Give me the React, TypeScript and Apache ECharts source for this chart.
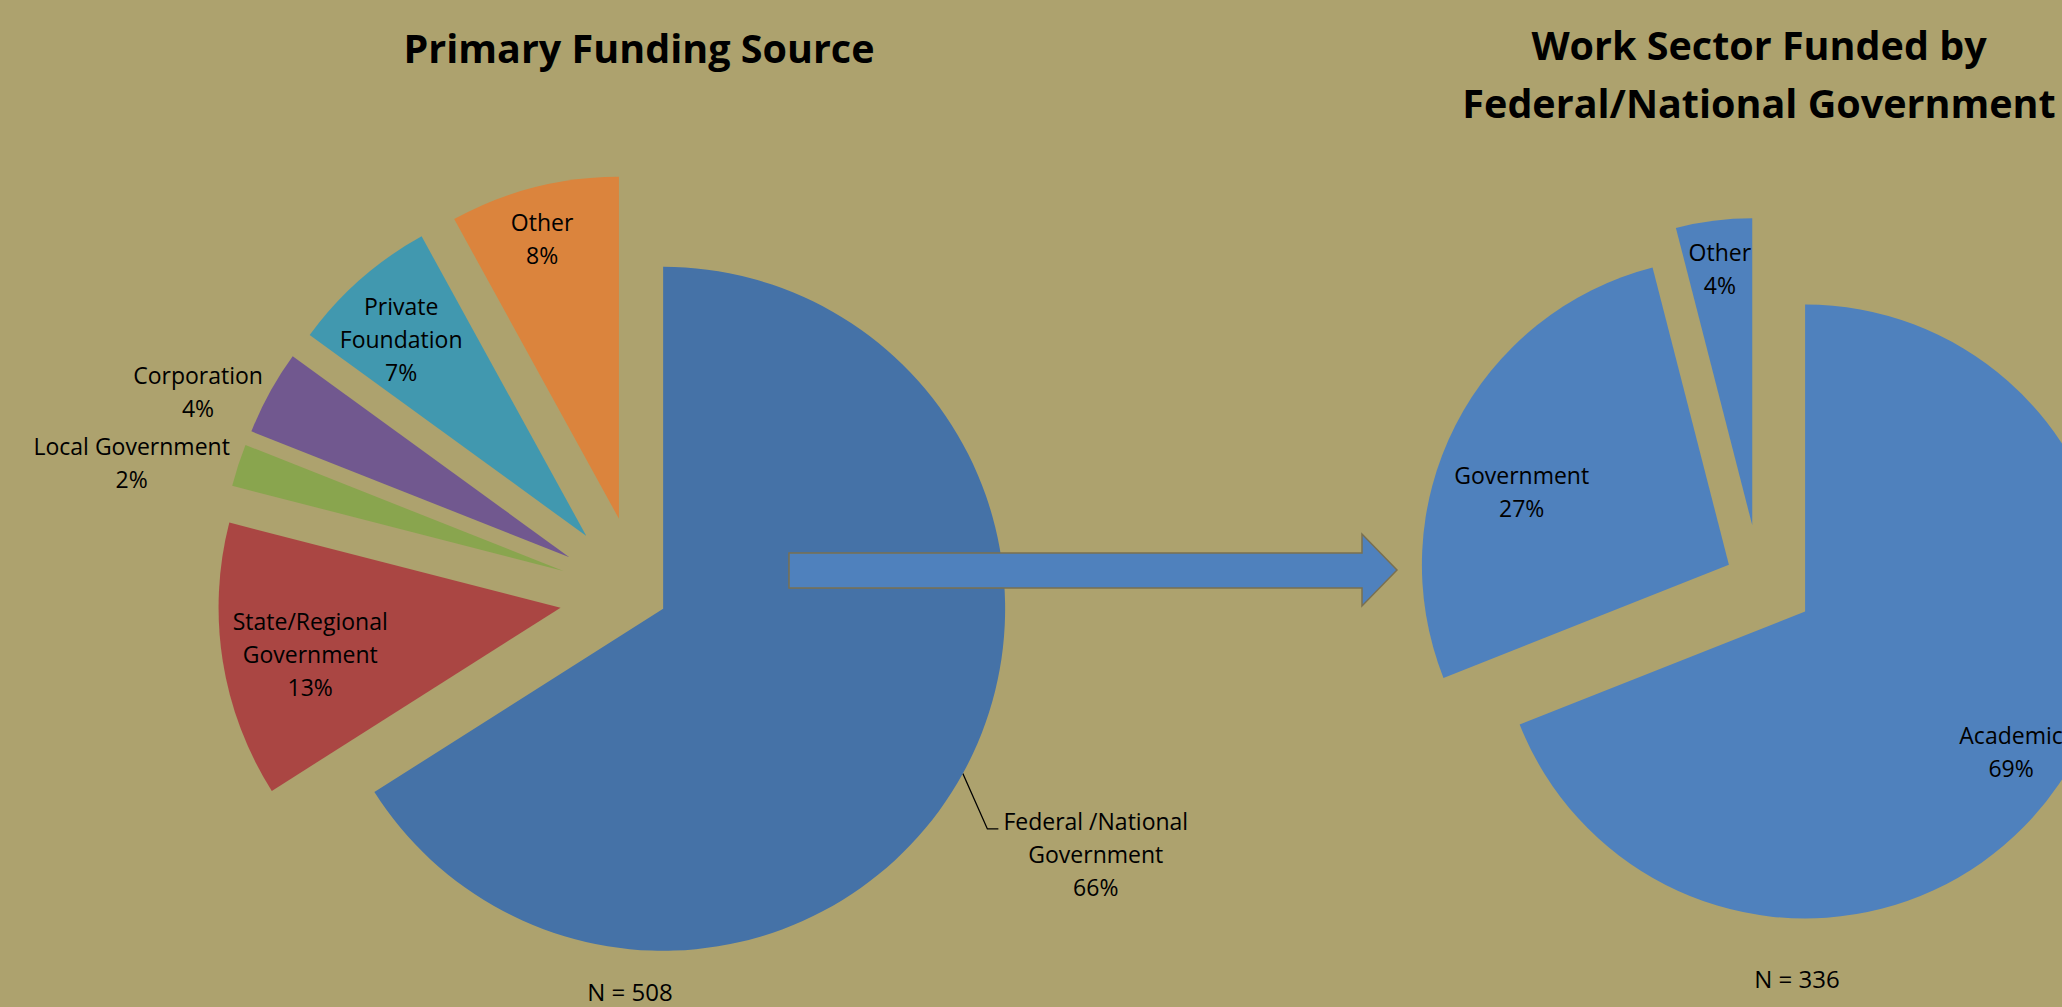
import React, { useEffect, useRef } from 'react';
import * as echarts from 'echarts';

// ---------- data ----------
const fundingNames = [
  'Federal /National\nGovernment',
  'State/Regional\nGovernment',
  'Local Government',
  'Corporation',
  'Private\nFoundation',
  'Other',
];
const fundingValues = [66, 13, 2, 4, 7, 8];
const fundingColors = ['#4572A7', '#AA4643', '#89A54E', '#71588F', '#4198AF', '#DB843D'];

const sectorNames = ['Academic', 'Government', 'Other'];
const sectorValues = [69, 27, 4];
const sectorColors = ['#4F81BD', '#4F81BD', '#4F81BD'];

const titleLeft = 'Primary Funding Source';
const titleRight = 'Work Sector Funded by\nFederal/National Government';
const sampleLeft = 'N = 508';
const sampleRight = 'N = 336';

// ---------- layout ----------
const BG = '#ADA26E';
const FONT = '"Open Sans", "Noto Sans", sans-serif';
const LEFT_C = [638.6, 595.3];
const LEFT_R = 342;
const RIGHT_C = [1759.2, 580.3];
const RIGHT_R = 307;

const richText = {
  t: {
    color: '#000',
    fontFamily: FONT,
    fontSize: 23,
    lineHeight: 33,
    align: 'center',
    textBorderWidth: 0,
  },
};

const fmt = (p: any) =>
  [...String(p.name).split('\n'), p.percent + '%'].map((s) => `{t|${s}}`).join('\n');

type Layer = {
  id: string;
  names: string[];
  values: number[];
  colors: string[] | null;
  center: number[];
  radius: number;
  offset: number;
  show: number[];
  label?: any;
  labelLine?: any;
  labelLayout?: any;
  z: number;
};

function layer(o: Layer) {
  return {
    type: 'pie',
    id: o.id,
    center: o.center,
    radius: [0, o.radius],
    startAngle: 90,
    clockwise: true,
    selectedMode: 'multiple',
    selectedOffset: o.offset,
    avoidLabelOverlap: false,
    percentPrecision: 0,
    silent: true,
    emphasis: { disabled: true },
    labelLayout: o.labelLayout,
    z: o.z,
    data: o.values.map((v, i) => {
      const on = o.show.includes(i);
      return {
        name: o.names[i],
        value: v,
        selected: on,
        itemStyle: {
          color: on && o.colors ? o.colors[i] : 'rgba(0,0,0,0)',
          borderWidth: 0,
        },
        label: on && o.label ? { show: true, ...o.label } : { show: false },
        labelLine: on && o.labelLine ? o.labelLine : { show: false },
      };
    }),
  };
}

// padding nudges the text box: [down, left-shift, 0, right-shift]
function inside(padding: number[]) {
  return {
    position: 'inside',
    formatter: fmt,
    rich: richText,
    color: '#000',
    textBorderWidth: 0,
    padding,
  };
}

// bend the leader line down to the first text line, as in the reference
const fedLeader = (p: any) => {
  const pts = p.labelLinePoints;
  if (!pts || pts.length < 3) return {};
  const a = pts[0];
  const c = pts[2];
  return {
    labelLinePoints: [
      [a[0], a[1]],
      [c[0] - 11, c[1] + 38],
      [c[0], c[1] + 38],
    ],
  };
};

const leftBase = { names: fundingNames, values: fundingValues, center: LEFT_C };
const rightBase = { names: sectorNames, values: sectorValues, center: RIGHT_C };

const series = [
  // left pie sectors
  layer({
    ...leftBase, id: 'fed', colors: fundingColors, radius: LEFT_R, offset: 28, show: [0], z: 2,
    label: {
      position: 'outside',
      formatter: fmt,
      rich: richText,
      color: '#000',
      textBorderWidth: 0,
      distanceToLabelLine: 5,
      padding: [126, 0, 0, 0],
    },
    labelLine: { show: true, length: 36, length2: 4, smooth: false, lineStyle: { color: '#000', width: 1.3 } },
    labelLayout: fedLeader,
  }),
  layer({ ...leftBase, id: 'small', colors: fundingColors, radius: LEFT_R, offset: 79, show: [1, 2, 3, 4, 5], z: 2 }),
  // left pie labels
  layer({ ...leftBase, id: 'lOther', colors: null, radius: 572, offset: 79, show: [5], z: 3, label: inside([0, 10, 0, 0]) }),
  layer({ ...leftBase, id: 'lPriv', colors: null, radius: 536, offset: 79, show: [4], z: 3, label: inside([12, 12, 0, 0]) }),
  layer({ ...leftBase, id: 'lState', colors: null, radius: 505, offset: 79, show: [1], z: 3, label: inside([12, 0, 0, 4]) }),
  layer({ ...leftBase, id: 'lCorp', colors: null, radius: 805, offset: 79, show: [3], z: 3, label: inside([60, 32, 0, 0]) }),
  layer({ ...leftBase, id: 'lLocal', colors: null, radius: 881, offset: 79, show: [2], z: 3, label: inside([58, 20, 0, 0]) }),
  // right pie sectors
  layer({ ...rightBase, id: 'acad', colors: sectorColors, radius: RIGHT_R, offset: 55.5, show: [0, 2], z: 2 }),
  layer({ ...rightBase, id: 'gov', colors: sectorColors, radius: RIGHT_R, offset: 34, show: [1], z: 2 }),
  // right pie labels
  layer({ ...rightBase, id: 'rAcad', colors: null, radius: 492, offset: 55.5, show: [0], z: 3, label: inside([0, 0, 0, 0]) }),
  layer({ ...rightBase, id: 'rOther', colors: null, radius: 511, offset: 55.5, show: [2], z: 3, label: inside([0, 0, 0, 0]) }),
  layer({ ...rightBase, id: 'rGov', colors: null, radius: 430, offset: 34, show: [1], z: 3, label: inside([52, 26, 0, 0]) }),
];

const textStyle = (text: string, size: number, weight: string, lh: number) => ({
  text,
  fill: '#000',
  fontFamily: FONT,
  fontSize: size,
  fontWeight: weight,
  lineHeight: lh,
  align: 'center',
  verticalAlign: 'middle',
});

const option = {
  animation: false,
  backgroundColor: BG,
  series,
  graphic: [
    { type: 'text', x: 639, y: 48, z: 50, style: textStyle(titleLeft, 39.5, 'bold', 48) },
    { type: 'text', x: 1759, y: 74, z: 50, style: textStyle(titleRight, 39.5, 'bold', 58) },
    { type: 'text', x: 630, y: 991, z: 50, style: textStyle(sampleLeft, 24, 'normal', 30) },
    { type: 'text', x: 1797, y: 978, z: 50, style: textStyle(sampleRight, 24, 'normal', 30) },
    {
      type: 'polygon',
      z: 100,
      shape: {
        points: [
          [789, 553], [1362, 553], [1362, 534], [1397, 570],
          [1362, 606], [1362, 588], [789, 588],
        ],
      },
      style: { fill: '#4F81BD', stroke: '#7A7050', lineWidth: 1.5 },
    },
  ],
};

export default function App() {
  const ref = useRef<HTMLDivElement>(null);
  useEffect(() => {
    const chart = echarts.init(ref.current as HTMLDivElement, null, { renderer: 'svg' });
    chart.setOption(option as any);
    return () => chart.dispose();
  }, []);
  return (
    <div
      ref={ref}
      style={{ position: 'fixed', left: 0, top: 0, width: 2062, height: 1007, background: BG }}
    />
  );
}
